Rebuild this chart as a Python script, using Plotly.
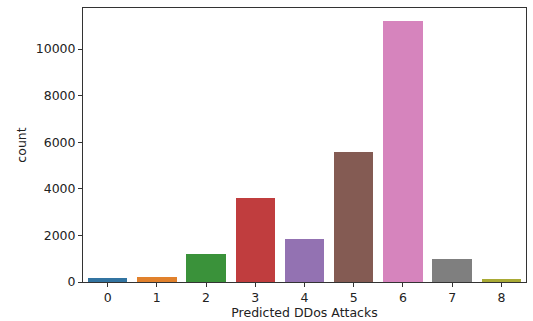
import plotly.graph_objects as go

# Count of predicted DDoS attack classes
classes = ["0", "1", "2", "3", "4", "5", "6", "7", "8"]
counts = [170, 225, 1210, 3610, 1840, 5580, 11200, 985, 110]
colors = ["#3274a1", "#e1812c", "#3a923a", "#c03d3e", "#9372b2",
          "#845b53", "#d684bd", "#7f7f7f", "#a9aa35"]
y_ticks = [0, 2000, 4000, 6000, 8000, 10000]

fig = go.Figure(
    go.Bar(
        x=list(range(len(classes))),
        y=counts,
        width=0.8,
        marker=dict(color=colors, line=dict(width=0)),
    )
)

axis_common = dict(
    showline=True,
    linecolor="#333333",
    linewidth=1,
    mirror=True,
    ticks="outside",
    ticklen=4,
    tickcolor="#333333",
    showgrid=False,
    zeroline=False,
    automargin=False,
    tickfont=dict(family="DejaVu Sans", size=12.5, color="#222222"),
    title_font=dict(family="DejaVu Sans", size=12.5, color="#222222"),
)

fig.update_layout(
    width=533,
    height=321,
    margin=dict(l=83, r=7, t=8, b=39),
    paper_bgcolor="white",
    plot_bgcolor="white",
    showlegend=False,
    bargap=0,
    xaxis=dict(
        axis_common,
        range=[-0.5, 8.5],
        tickvals=list(range(len(classes))),
        ticktext=classes,
        title=dict(text="Predicted DDos Attacks", standoff=3),
    ),
    yaxis=dict(
        axis_common,
        range=[0, max(counts) * 1.05],
        tickvals=y_ticks,
        ticktext=[str(v) for v in y_ticks],
        title=dict(text="count", standoff=6),
    ),
)

fig.write_html("out.html")
